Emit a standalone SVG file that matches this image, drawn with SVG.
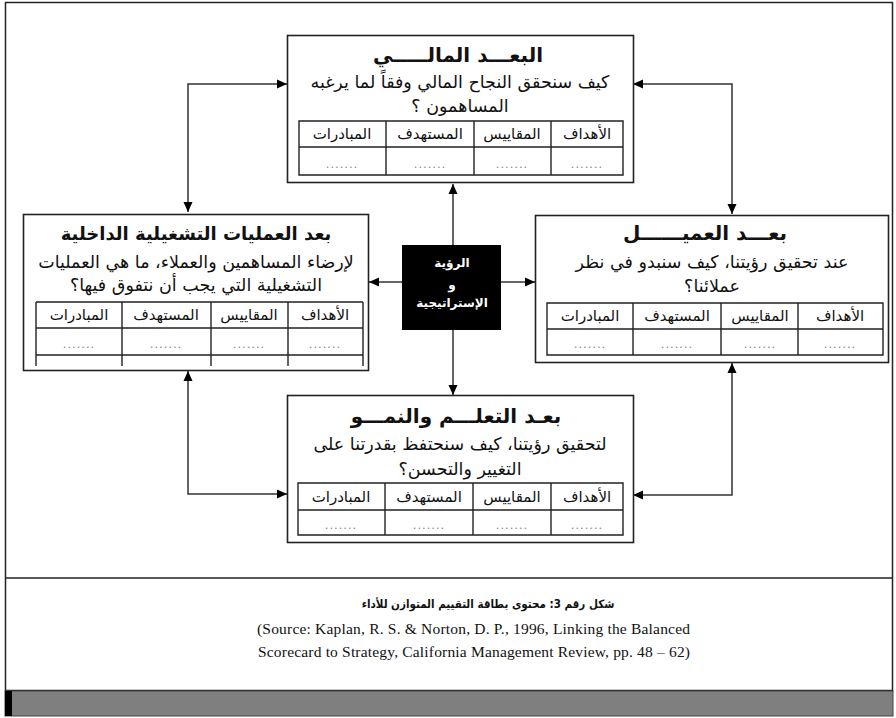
<svg xmlns="http://www.w3.org/2000/svg" width="896" height="718" viewBox="0 0 896 718">
<defs>
<marker id="ah" viewBox="0 0 10 10" refX="10" refY="5" markerWidth="10" markerHeight="10" markerUnits="userSpaceOnUse" orient="auto-start-reverse">
<path d="M0,0.5 L10,5 L0,9.5 Z" fill="#000"/>
</marker>
<style>
.box{fill:#fff;stroke:#222;stroke-width:1.6}
.tbl{fill:none;stroke:#222;stroke-width:1.4}
.con{fill:none;stroke:#333;stroke-width:1.5}
.ar{font-family:"DejaVu Sans",sans-serif;direction:rtl;text-anchor:middle;fill:#111}
.ttl{font-size:20px;font-weight:bold}
.q{font-size:17.5px}
.h{font-size:15px}
.d{font-size:13px;fill:#888;font-family:"Liberation Sans",sans-serif;text-anchor:middle;letter-spacing:1px}
.w{fill:#fff;font-weight:bold;font-size:12px}
.src{font-family:"Liberation Serif",serif;font-size:15.5px;fill:#111}
</style>
</defs>
<rect x="0" y="0" width="896" height="718" fill="#fff"/>
<rect x="5.5" y="2.5" width="887" height="688" fill="#fff" stroke="#222" stroke-width="1.5"/>
<line x1="5" y1="578" x2="893" y2="578" stroke="#222" stroke-width="1.5"/>
<rect x="5" y="691" width="888" height="25" fill="#7f7f7f" stroke="#444" stroke-width="1"/>
<rect x="5" y="691" width="7" height="25" fill="#000"/>

<g id="connectors">
<path class="con" d="M287,84 H188 V212" marker-start="url(#ah)" marker-end="url(#ah)"/>
<path class="con" d="M633,84 H732 V214" marker-start="url(#ah)" marker-end="url(#ah)"/>
<path class="con" d="M188,371 V494 H287" marker-start="url(#ah)" marker-end="url(#ah)"/>
<path class="con" d="M732,363 V495 H633" marker-start="url(#ah)" marker-end="url(#ah)"/>
<path class="con" d="M453,245 V184" marker-end="url(#ah)"/>
<path class="con" d="M402,282 H369" marker-end="url(#ah)"/>
<path class="con" d="M501,282 H535" marker-end="url(#ah)"/>
<path class="con" d="M453,330 V395" marker-end="url(#ah)"/>
</g>

<g id="financial">
<rect class="box" x="287.5" y="35.5" width="346" height="147"/>
<text class="ar ttl" x="458" y="62">البعـــد المالـــــي</text>
<text class="ar q" x="460" y="88">كيف سنحقق النجاح المالي وفقاً لما يرغبه</text>
<text class="ar q" x="460" y="112">المساهمون ؟</text>
<path class="tbl" d="M299,121 H623 V175 H299 Z M299,147 H623 M386,121 V175 M474,121 V175 M551,121 V175"/>
<text class="ar h" x="587" y="139">الأهداف</text>
<text class="ar h" x="512" y="139">المقاييس</text>
<text class="ar h" x="430" y="139">المستهدف</text>
<text class="ar h" x="342" y="139">المبادرات</text>
<text class="d" x="587" y="168">.......</text>
<text class="d" x="512" y="168">.......</text>
<text class="d" x="430" y="168">.......</text>
<text class="d" x="342" y="168">.......</text>
</g>

<g id="internal">
<rect class="box" x="23.5" y="214.5" width="345" height="156"/>
<text class="ar ttl" x="196" y="240" style="font-size:18px">بعد العمليات التشغيلية الداخلية</text>
<text class="ar q" x="196" y="268">لإرضاء المساهمين والعملاء، ما هي العمليات</text>
<text class="ar q" x="196" y="291">التشغيلية التي يجب أن نتفوق فيها؟</text>
<path class="tbl" d="M36,302 H363 M36,328 H363 M36,355 H363 M36,302 V366 M122,302 V366 M211,302 V366 M288,302 V366 M363,302 V366"/>
<text class="ar h" x="325" y="320">الأهداف</text>
<text class="ar h" x="249" y="320">المقاييس</text>
<text class="ar h" x="166" y="320">المستهدف</text>
<text class="ar h" x="79" y="320">المبادرات</text>
<text class="d" x="325" y="348">.......</text>
<text class="d" x="249" y="348">.......</text>
<text class="d" x="166" y="348">.......</text>
<text class="d" x="79" y="348">.......</text>
</g>

<g id="customer">
<rect class="box" x="535.5" y="215.5" width="353" height="147"/>
<text class="ar ttl" x="705" y="240">بعـــد العميــــــل</text>
<text class="ar q" x="712" y="268">عند تحقيق رؤيتنا، كيف سنبدو في نظر</text>
<text class="ar q" x="712" y="292">عملائنا؟</text>
<path class="tbl" d="M547,303 H883 V355 H547 Z M547,329 H883 M633,303 V355 M721,303 V355 M798,303 V355"/>
<text class="ar h" x="840" y="321">الأهداف</text>
<text class="ar h" x="760" y="321">المقاييس</text>
<text class="ar h" x="677" y="321">المستهدف</text>
<text class="ar h" x="590" y="321">المبادرات</text>
<text class="d" x="840" y="348">.......</text>
<text class="d" x="760" y="348">.......</text>
<text class="d" x="677" y="348">.......</text>
<text class="d" x="590" y="348">.......</text>
</g>

<g id="learning">
<rect class="box" x="287.5" y="395.5" width="346" height="147"/>
<text class="ar ttl" x="456" y="423">بعـد التعلـــم والنمـــو</text>
<text class="ar q" x="460" y="450">لتحقيق رؤيتنا، كيف سنحتفظ بقدرتنا على</text>
<text class="ar q" x="460" y="475">التغيير والتحسن؟</text>
<path class="tbl" d="M298,483 H623 V535 H298 Z M298,510 H623 M385,483 V535 M473,483 V535 M551,483 V535"/>
<text class="ar h" x="587" y="502">الأهداف</text>
<text class="ar h" x="512" y="502">المقاييس</text>
<text class="ar h" x="429" y="502">المستهدف</text>
<text class="ar h" x="341" y="502">المبادرات</text>
<text class="d" x="587" y="529">.......</text>
<text class="d" x="512" y="529">.......</text>
<text class="d" x="429" y="529">.......</text>
<text class="d" x="341" y="529">.......</text>
</g>

<g id="vision">
<rect x="402" y="245" width="99" height="85" fill="#000"/>
<text class="ar w" x="452" y="267">الرؤية</text>
<text class="ar w" x="452" y="289">و</text>
<text class="ar w" x="452" y="307">الإستراتيجية</text>
</g>

<g id="caption">
<text x="488" y="608" style="font-family:'DejaVu Sans Condensed','DejaVu Sans',sans-serif;direction:rtl;text-anchor:middle;fill:#111;font-size:11.5px;font-weight:bold">شكل رقم 3: محتوى بطاقة التقييم المتوازن للأداء</text>
<text class="src" x="257" y="634" textLength="433" lengthAdjust="spacing">(Source: Kaplan, R. S. &amp; Norton, D. P., 1996, Linking the Balanced</text>
<text class="src" x="258" y="657" textLength="432" lengthAdjust="spacing">Scorecard to Strategy, California Management Review, pp. 48 – 62)</text>
</g>
</svg>
